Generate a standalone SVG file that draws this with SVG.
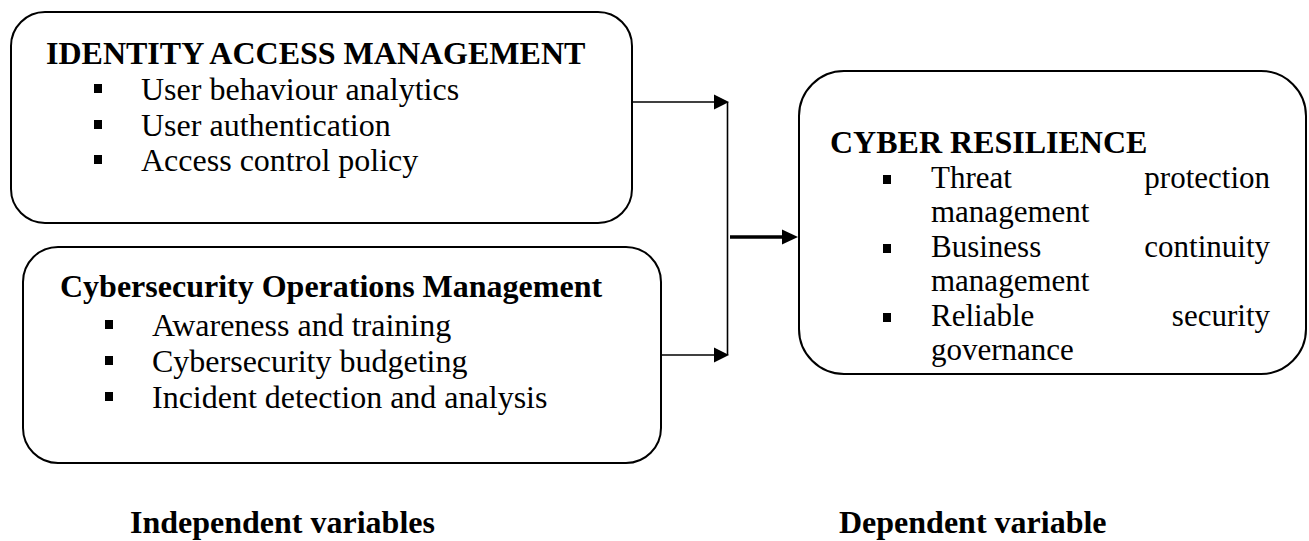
<svg xmlns="http://www.w3.org/2000/svg" width="1309" height="541" viewBox="0 0 1309 541">
<defs>
<style>
.box{fill:#fff;stroke:#000;stroke-width:2}
.h{font-family:"Liberation Serif","Times New Roman",serif;font-weight:bold;font-size:32px;fill:#000}
.t{font-family:"Liberation Serif","Times New Roman",serif;font-size:32px;fill:#000}
.t3{font-family:"Liberation Serif","Times New Roman",serif;font-size:31px;fill:#000}
.ln{stroke:#000;stroke-width:1.6;fill:none}
.thick{stroke:#000;stroke-width:3.5;fill:none}
.ah{fill:#000}
</style>
</defs>
<rect width="1309" height="541" fill="#fff"/>
<g id="connectors">
<line class="ln" x1="632" y1="102" x2="715" y2="102"/>
<polygon class="ah" points="714,94.5 729,102 714,109.5"/>
<line class="ln" x1="661" y1="355" x2="715" y2="355"/>
<polygon class="ah" points="714,347.5 729,355 714,362.5"/>
<line class="ln" x1="727.5" y1="102" x2="727.5" y2="355"/>
<line class="thick" x1="730" y1="237" x2="784" y2="237"/>
<polygon class="ah" points="782,229.5 798,237 782,244.5"/>
</g>
<g id="identity-access-management">
<rect class="box" x="11" y="12" width="621" height="211" rx="34" ry="34"/>
<text class="h" x="46" y="64">IDENTITY ACCESS MANAGEMENT</text>
<rect x="94" y="84" width="8" height="9"/>
<text class="t" x="141" y="100">User behaviour analytics</text>
<rect x="94" y="120" width="8" height="9"/>
<text class="t" x="141" y="136">User authentication</text>
<rect x="94" y="155" width="8" height="9"/>
<text class="t" x="141" y="171">Access control policy</text>
</g>
<g id="cybersecurity-operations-management">
<rect class="box" x="23" y="247" width="638" height="216" rx="35" ry="35"/>
<text class="h" x="60" y="297">Cybersecurity Operations Management</text>
<rect x="105" y="320" width="8" height="9"/>
<text class="t" x="152" y="336">Awareness and training</text>
<rect x="105" y="356" width="8" height="9"/>
<text class="t" x="152" y="372">Cybersecurity budgeting</text>
<rect x="105" y="392" width="8" height="9"/>
<text class="t" x="152" y="408">Incident detection and analysis</text>
</g>
<g id="cyber-resilience">
<rect class="box" x="799" y="71" width="507" height="303" rx="45" ry="45"/>
<text class="h" x="830" y="153">CYBER RESILIENCE</text>
<rect x="883" y="175" width="8" height="9"/>
<text class="t3" x="931" y="188">Threat</text>
<text class="t3" x="1270" y="188" text-anchor="end">protection</text>
<text class="t3" x="931" y="222">management</text>
<rect x="883" y="244" width="8" height="9"/>
<text class="t3" x="931" y="257">Business</text>
<text class="t3" x="1270" y="257" text-anchor="end">continuity</text>
<text class="t3" x="931" y="291">management</text>
<rect x="883" y="313" width="8" height="9"/>
<text class="t3" x="931" y="326">Reliable</text>
<text class="t3" x="1270" y="326" text-anchor="end">security</text>
<text class="t3" x="931" y="360">governance</text>
</g>
<g id="labels">
<text class="h" x="130" y="533">Independent variables</text>
<text class="h" x="839" y="533">Dependent variable</text>
</g>
</svg>
